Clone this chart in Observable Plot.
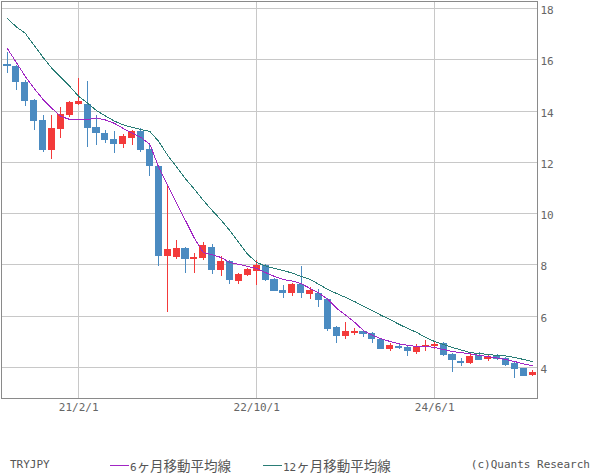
<!DOCTYPE html>
<html>
<head>
<meta charset="utf-8">
<script src="https://cdn.jsdelivr.net/npm/d3@7"></script>
<script src="https://cdn.jsdelivr.net/npm/@observablehq/plot@0.6"></script>
<style>
  html, body { margin: 0; padding: 0; background: #fff; }
  #wrap { position: relative; width: 600px; height: 475px; overflow: hidden; }
  .leg { position: absolute; top: 457px; font-size: 12px; color: #555; white-space: nowrap; line-height: 16px; }
  .lat { font-family: "DejaVu Sans Mono", monospace; font-size: 11px; }
  .jp { font-family: "Noto Sans CJK JP", sans-serif; font-size: 13.5px; }
  .sw { position: absolute; top: 465px; width: 19px; height: 1px; }
</style>
</head>
<body>
<div id="wrap">
  <div id="chart"></div>
  <div class="leg lat" style="left:10px;">TRYJPY</div>
  <div class="sw" style="left:110px; background:#a126c4"></div>
  <div class="leg" style="left:130px;"><span class="lat">6</span><span class="jp">ヶ月移動平均線</span></div>
  <div class="sw" style="left:263px; background:#2a7d76"></div>
  <div class="leg" style="left:283px;"><span class="lat">12</span><span class="jp">ヶ月移動平均線</span></div>
  <div class="leg lat" style="right:10px;">(c)Quants Research</div>
</div>
<script>
const dates = [
  "20/6/1","20/7/1","20/8/1","20/9/1","20/10/1","20/11/1","20/12/1","21/1/1","21/2/1","21/3/1",
  "21/4/1","21/5/1","21/6/1","21/7/1","21/8/1","21/9/1","21/10/1","21/11/1","21/12/1","22/1/1",
  "22/2/1","22/3/1","22/4/1","22/5/1","22/6/1","22/7/1","22/8/1","22/9/1","22/10/1","22/11/1",
  "22/12/1","23/1/1","23/2/1","23/3/1","23/4/1","23/5/1","23/6/1","23/7/1","23/8/1","23/9/1",
  "23/10/1","23/11/1","23/12/1","24/1/1","24/2/1","24/3/1","24/4/1","24/5/1","24/6/1","24/7/1",
  "24/8/1","24/9/1","24/10/1","24/11/1","24/12/1","25/1/1","25/2/1","25/3/1","25/4/1","25/5/1"
];
const open = [15.80,15.74,15.11,14.41,13.63,12.46,13.29,13.84,14.27,14.27,
  13.36,13.12,12.90,12.71,12.94,13.20,12.50,11.84,8.34,8.30,
  8.64,8.21,8.26,8.67,7.79,8.14,7.36,7.60,7.76,7.98,
  7.43,7.00,6.90,7.24,6.86,6.88,6.65,5.57,5.22,5.33,
  5.41,5.31,5.08,4.69,4.83,4.79,4.58,4.79,4.83,4.92,
  4.51,4.23,4.15,4.45,4.30,4.44,4.35,4.14,3.96,3.67];
const high = [16.28,15.78,15.20,14.45,13.81,13.83,14.15,14.37,15.27,15.15,
  13.83,13.24,13.20,13.09,13.24,13.32,12.70,11.86,11.06,8.95,
  8.69,8.44,8.87,8.80,8.34,8.17,7.66,7.86,8.17,8.02,
  7.45,7.20,7.28,7.92,7.13,7.04,6.67,5.60,5.77,5.51,
  5.44,5.35,5.10,4.93,4.93,4.80,4.91,5.04,4.96,4.96,
  4.53,4.35,4.53,4.60,4.52,4.50,4.39,4.19,3.97,3.89];
const low = [15.48,14.80,14.19,13.24,12.38,12.10,12.93,13.75,14.22,12.59,
  12.66,12.75,12.36,12.55,12.66,12.40,11.46,7.95,6.13,8.22,
  7.68,7.68,8.17,7.64,7.55,7.25,7.25,7.56,7.21,7.35,
  6.95,6.70,6.78,6.70,6.66,6.35,5.41,4.95,5.10,5.25,
  5.18,4.92,4.70,4.63,4.70,4.44,4.52,4.63,4.72,4.43,
  3.82,4.05,4.13,4.26,4.22,4.27,4.05,3.56,3.64,3.65];
const close = [15.74,15.13,14.37,13.61,12.46,13.32,13.86,14.33,14.37,13.33,
  13.14,12.86,12.71,13.02,13.21,12.47,11.85,8.34,8.60,8.64,
  8.22,8.29,8.76,7.79,8.13,7.40,7.62,7.82,7.98,7.40,
  6.97,6.90,7.24,6.90,7.00,6.62,5.49,5.21,5.41,5.39,
  5.29,5.08,4.71,4.85,4.75,4.63,4.82,4.87,4.91,4.48,
  4.27,4.15,4.44,4.28,4.44,4.32,4.09,3.93,3.66,3.80];
const ma6 = [16.43,15.89,15.35,14.88,14.45,14.10,13.79,13.67,13.66,13.66,
  13.73,13.65,13.52,13.32,13.14,12.97,12.70,11.80,11.10,10.40,
  9.73,9.04,8.48,8.39,8.29,8.09,8.02,7.94,7.86,7.70,
  7.55,7.43,7.37,7.27,7.08,6.90,6.65,6.30,6.04,5.76,
  5.44,5.25,5.12,5.01,4.92,4.86,4.82,4.82,4.78,4.70,
  4.62,4.58,4.53,4.47,4.43,4.37,4.31,4.23,4.14,4.06];
const ma12 = [17.60,17.28,17.03,16.56,16.09,15.66,15.31,14.96,14.57,14.31,
  14.02,13.81,13.61,13.46,13.36,13.28,13.20,12.81,12.27,11.82,
  11.36,10.95,10.52,10.12,9.75,9.33,8.86,8.41,8.09,7.96,
  7.86,7.78,7.68,7.55,7.43,7.24,7.04,6.88,6.73,6.57,
  6.38,6.22,6.03,5.87,5.68,5.52,5.36,5.17,5.01,4.90,
  4.78,4.68,4.58,4.54,4.51,4.47,4.45,4.39,4.31,4.23];
const xTickLabels = ["21/2/1", "22/10/1", "24/6/1"];
const yTicks = [4, 6, 8, 10, 12, 14, 16, 18];

const UP = "#f33a3a", DOWN = "#4b8bc1";
const data = dates.map((d, i) => ({
  i, date: d, open: open[i], high: high[i], low: low[i], close: close[i],
  ma6: ma6[i], ma12: ma12[i], up: close[i] >= open[i]
}));
const xTicks = xTickLabels.map(l => dates.indexOf(l));

const chart = Plot.plot({
  width: 600,
  height: 420,
  marginLeft: 1,
  marginRight: 63,
  marginTop: 1,
  marginBottom: 22,
  style: { fontFamily: "'DejaVu Sans Mono', monospace", fontSize: "11px", color: "#666", background: "#fff" },
  x: { type: "linear", domain: [-0.67, 59.55] },
  y: { domain: [2.79, 18.27] },
  marks: [
    Plot.gridY(yTicks, { stroke: "#c8c8c8", strokeOpacity: 1, shapeRendering: "crispEdges" }),
    Plot.gridX(xTicks, { stroke: "#c8c8c8", strokeOpacity: 1, shapeRendering: "crispEdges" }),
    Plot.ruleX(data, { x: "i", y1: "low", y2: "high", stroke: d => d.up ? UP : DOWN, strokeWidth: 1, shapeRendering: "crispEdges" }),
    Plot.rect(data, {
      x1: d => d.i - 0.4, x2: d => d.i + 0.4,
      y1: "open", y2: "close",
      fill: d => d.up ? UP : DOWN, shapeRendering: "crispEdges"
    }),
    Plot.line(data, { x: "i", y: "ma12", stroke: "#2a7d76", strokeWidth: 1, shapeRendering: "crispEdges" }),
    Plot.line(data, { x: "i", y: "ma6", stroke: "#a126c4", strokeWidth: 1, shapeRendering: "crispEdges" }),
    Plot.frame({ stroke: "#8a8a8a", shapeRendering: "crispEdges" }),
    Plot.axisY(yTicks, { anchor: "right", tickSize: 0, tickPadding: 3, dy: 2, label: null, fill: "#666" }),
    Plot.axisX(xTicks, { anchor: "bottom", tickSize: 0, tickPadding: 5, tickFormat: i => dates[i], label: null, fill: "#666" })
  ]
});
document.getElementById("chart").appendChild(chart);
</script>
</body>
</html>
